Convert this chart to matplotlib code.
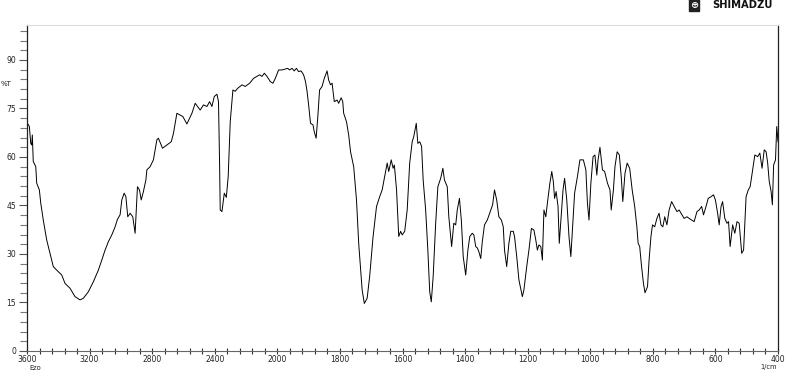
import numpy as np
import matplotlib
matplotlib.use("Agg")
import matplotlib.pyplot as plt
from matplotlib.ticker import FixedLocator, NullFormatter

# ---- data (wavenumber in 1/cm, %T) ----
wavenumber = [
    3598, 3585, 3576, 3570, 3566, 3560, 3544, 3538, 3521, 3512, 3496, 3474, 3453, 3432, 3410, 3378,
    3357, 3325, 3293, 3261, 3240, 3208, 3176, 3144, 3122, 3101, 3080, 3058, 3037, 3022, 3005, 2994,
    2979, 2968, 2956, 2941, 2924, 2909, 2894, 2881, 2870, 2856, 2840, 2834, 2813, 2792, 2770, 2760,
    2734, 2706, 2678, 2664, 2642, 2604, 2578, 2546, 2525, 2493, 2472, 2450, 2433, 2418, 2403, 2386,
    2376, 2369, 2365, 2354, 2339, 2326, 2314, 2301, 2284, 2269, 2254, 2226, 2205, 2177, 2152, 2130,
    2113, 2098, 2083, 2066, 2045, 2028, 2013, 1996, 1985, 1974, 1967, 1961, 1953, 1946, 1939, 1932,
    1924, 1916, 1910, 1905, 1900, 1894, 1886, 1882, 1876, 1871, 1865, 1857, 1850, 1841, 1836, 1830,
    1825, 1818, 1809, 1804, 1796, 1791, 1788, 1779, 1772, 1766, 1756, 1747, 1740, 1729, 1722, 1713,
    1705, 1694, 1683, 1673, 1665, 1657, 1649, 1644, 1636, 1630, 1626, 1619, 1612, 1606, 1601, 1593,
    1585, 1577, 1569, 1564, 1556, 1551, 1545, 1539, 1534, 1526, 1519, 1513, 1508, 1502, 1494, 1487,
    1478, 1471, 1466, 1457, 1452, 1443, 1436, 1430, 1425, 1418, 1412, 1406, 1398, 1391, 1385, 1377,
    1372, 1366, 1361, 1356, 1350, 1345, 1338, 1329, 1318, 1312, 1306, 1299, 1292, 1284, 1278, 1274,
    1267, 1260, 1254, 1246, 1242, 1235, 1228, 1217, 1212, 1203, 1196, 1188, 1180, 1174, 1169, 1164,
    1158, 1153, 1148, 1142, 1137, 1129, 1123, 1118, 1114, 1109, 1103, 1099, 1093, 1087, 1082, 1075,
    1068, 1062, 1057, 1050, 1041, 1033, 1022, 1014, 1009, 1004, 998, 991, 985, 979, 975, 969,
    961, 954, 945, 937, 933, 926, 921, 914, 907, 901, 896, 889, 882, 874, 866, 858,
    851, 847, 842, 836, 830, 825, 817, 812, 806, 801, 794, 787, 780, 774, 768, 762,
    755, 748, 740, 732, 723, 716, 707, 700, 691, 684, 676, 668, 659, 652, 644, 638,
    630, 623, 614, 606, 600, 593, 588, 582, 577, 570, 563, 558, 553, 545, 538, 531,
    524, 516, 510, 502, 495, 489, 481, 474, 465, 458, 451, 444, 438, 433, 428, 422,
    418, 414, 408, 404, 400,
]
transmittance = [
    70.5, 69.4, 64.2, 63.7, 66.8, 58.6, 57.0, 51.9, 49.8, 45.7, 40.5, 34.3, 30.2, 26.1, 25.0, 23.5,
    20.9, 19.4, 16.8, 15.8, 16.3, 18.3, 21.4, 25.0, 28.1, 31.2, 33.8, 35.9, 38.4, 40.7, 42.1, 46.7,
    48.8, 47.7, 41.5, 42.6, 41.5, 36.4, 50.8, 49.8, 46.7, 49.3, 52.9, 56.0, 57.0, 59.1, 65.3, 65.8,
    62.7, 63.7, 64.7, 67.3, 73.5, 72.5, 70.2, 73.5, 76.6, 74.5, 76.1, 75.6, 77.1, 75.6, 78.7, 79.4,
    77.1, 57.5, 43.6, 43.1, 48.8, 47.5, 54.0, 70.9, 80.7, 80.3, 81.2, 82.3, 81.8, 82.8, 84.3, 84.9,
    85.4, 84.9, 85.9, 84.9, 83.3, 82.8, 84.3, 86.9, 86.9, 87.2, 87.4, 86.9, 87.4, 86.6, 87.4, 86.4,
    86.6, 85.4, 83.3, 80.3, 76.1, 70.4, 69.9, 67.8, 65.8, 72.0, 80.7, 81.8, 84.3, 86.6, 83.8, 82.3,
    82.8, 77.1, 77.6, 76.6, 78.3, 77.1, 73.5, 70.9, 66.8, 61.6, 57.0, 46.7, 33.3, 18.9, 14.7, 16.3,
    23.0, 35.4, 44.7, 47.7, 49.8, 53.9, 58.1, 55.5, 59.1, 56.5, 57.5, 49.8, 35.4, 37.0, 35.9, 37.0,
    43.6, 58.1, 64.7, 66.3, 70.4, 64.2, 64.7, 63.3, 52.9, 43.6, 31.2, 18.3, 15.2, 23.0, 39.5, 50.8,
    53.4, 56.5, 52.9, 50.8, 41.5, 32.3, 39.5, 39.0, 43.6, 47.2, 40.5, 29.2, 23.5, 31.2, 35.4, 36.4,
    35.9, 32.3, 31.9, 30.7, 28.6, 33.8, 39.0, 40.5, 43.6, 45.2, 49.8, 46.7, 41.5, 40.5, 38.4, 31.2,
    26.1, 33.3, 37.0, 37.0, 35.4, 29.2, 22.0, 16.8, 18.9, 26.1, 31.2, 37.9, 37.4, 34.3, 31.2, 32.8,
    32.3, 28.1, 43.6, 41.5, 45.7, 51.9, 55.5, 52.4, 47.2, 49.3, 44.7, 33.3, 41.5, 49.8, 53.4, 46.7,
    35.4, 29.2, 37.4, 48.8, 53.9, 59.1, 59.1, 56.0, 45.7, 40.5, 51.9, 60.1, 60.6, 54.4, 59.1, 63.0,
    56.0, 55.5, 51.9, 49.8, 43.6, 49.8, 57.0, 61.6, 60.6, 53.9, 46.2, 54.9, 58.1, 56.5, 49.8, 44.7,
    38.4, 33.3, 32.3, 26.1, 20.9, 18.0, 19.9, 28.1, 35.4, 39.0, 38.4, 41.0, 42.6, 39.0, 38.4, 41.5,
    39.0, 43.6, 46.2, 44.7, 43.1, 43.6, 42.1, 41.0, 41.5, 41.0, 40.5, 40.0, 43.1, 43.6, 44.7, 42.1,
    44.7, 47.2, 47.7, 48.3, 46.7, 42.6, 39.0, 44.7, 46.2, 41.0, 39.5, 40.0, 32.3, 39.0, 36.4, 40.0,
    39.5, 30.2, 31.2, 47.7, 49.8, 50.8, 56.0, 60.6, 60.1, 61.2, 56.5, 62.2, 61.6, 58.1, 52.4, 49.3,
    45.2, 57.5, 59.1, 69.4, 64.7,
]
x_major_ticks = [3600, 3200, 2800, 2400, 2000, 1800, 1600, 1400, 1200, 1000, 800, 600, 400]
y_major_ticks = [0, 15, 30, 45, 60, 75, 90]


# piecewise scale: 400 1/cm per division above 2000, 200 1/cm per division below
def fwd(w):
    w = np.asarray(w, dtype=float)
    return np.where(w <= 2000, w, 2000 + (w - 2000) / 2.0)


def inv(v):
    v = np.asarray(v, dtype=float)
    return np.where(v <= 2000, v, 2000 + (v - 2000) * 2.0)


fig = plt.figure(figsize=(7.85, 3.70), dpi=100)
ax = fig.add_axes([27 / 785, 1 - 351 / 370, (778 - 27) / 785, (351 - 25) / 370])
ax.set_xscale("function", functions=(fwd, inv))
ax.plot(wavenumber, transmittance, color="black", lw=0.7)
ax.set_xlim(3600, 400)
ax.set_ylim(0, 100.8)

ax.xaxis.set_major_locator(FixedLocator(x_major_ticks))
minor_x = list(range(3600, 2000, -80)) + list(range(2000, 399, -40))
ax.xaxis.set_minor_locator(FixedLocator(minor_x))
ax.xaxis.set_minor_formatter(NullFormatter())
ax.set_xticklabels([str(v) for v in x_major_ticks])

ax.yaxis.set_major_locator(FixedLocator(y_major_ticks))
ax.yaxis.set_minor_locator(FixedLocator(list(range(0, 100, 3))))
ax.yaxis.set_minor_formatter(NullFormatter())

ax.tick_params(axis="x", which="both", direction="inout", length=5, width=0.8,
               color="#333333", labelsize=5.5, labelcolor="#222222", pad=0.5)
ax.tick_params(axis="y", which="major", direction="out", length=6, width=0.8,
               color="#555555", labelsize=5.5, labelcolor="#222222", pad=2)
ax.tick_params(axis="y", which="minor", direction="out", length=5, width=0.8,
               color="#777777")

for side in ["left", "right"]:
    ax.spines[side].set_color("#222222")
    ax.spines[side].set_linewidth(0.9)
ax.spines["bottom"].set_color("#666666")
ax.spines["bottom"].set_linewidth(0.8)
ax.spines["top"].set_color("#dddddd")
ax.spines["top"].set_linewidth(0.8)

fig.text(1 / 785, 1 - 84 / 370, "%T", fontsize=5, color="#222222", va="center", ha="left")
fig.text(35 / 785, 1 - 367.5 / 370, "Ezo", fontsize=4.8, color="#222222", va="center", ha="center")
fig.text(769 / 785, 1 - 367.5 / 370, "1/cm", fontsize=4.8, color="#222222", va="center", ha="center")

# logo
fig.text(694 / 785, 1 - 5 / 370, "\u2295", fontsize=7, color="white", va="center", ha="center",
         fontweight="bold",
         bbox=dict(boxstyle="square,pad=0.08", facecolor="#222222", edgecolor="#222222"))
fig.text(742 / 785, 1 - 5 / 370, "SHIMADZU", fontsize=7.2, color="#111111", va="center",
         ha="center", fontweight="bold", fontstretch="expanded")

fig.savefig("out.png", dpi=100, facecolor="white")
